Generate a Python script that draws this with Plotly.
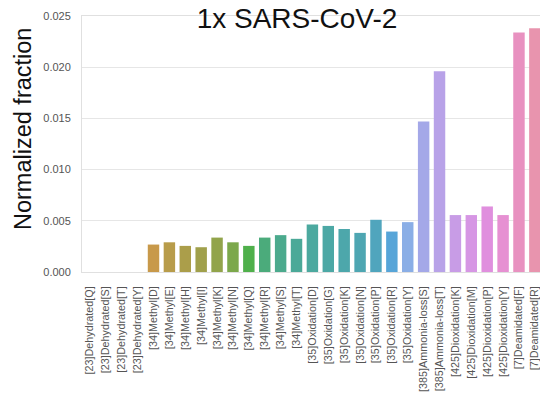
import plotly.graph_objects as go

categories = [
    "[23]Dehydrated[Q]", "[23]Dehydrated[S]", "[23]Dehydrated[T]", "[23]Dehydrated[Y]",
    "[34]Methyl[D]", "[34]Methyl[E]", "[34]Methyl[H]", "[34]Methyl[I]", "[34]Methyl[K]",
    "[34]Methyl[N]", "[34]Methyl[Q]", "[34]Methyl[R]", "[34]Methyl[S]", "[34]Methyl[T]",
    "[35]Oxidation[D]", "[35]Oxidation[G]", "[35]Oxidation[K]", "[35]Oxidation[N]",
    "[35]Oxidation[P]", "[35]Oxidation[R]", "[35]Oxidation[Y]",
    "[385]Ammonia-loss[S]", "[385]Ammonia-loss[T]",
    "[425]Dioxidation[K]", "[425]Dioxidation[M]", "[425]Dioxidation[P]", "[425]Dioxidation[Y]",
    "[7]Deamidated[F]", "[7]Deamidated[R]",
]

values = [
    0.0, 0.0, 0.0, 0.0,
    0.00268, 0.0029, 0.00255, 0.00242, 0.00336,
    0.0029, 0.00255, 0.00336, 0.0036, 0.00324,
    0.00464, 0.0045, 0.0042, 0.00382,
    0.0051, 0.00395, 0.00487,
    0.0147, 0.0196,
    0.00556, 0.00556, 0.0064, 0.00556,
    0.0234, 0.0238,
]

colors = [
    "#e8909a", "#e49488", "#dc9870", "#d29a5a",
    "#c8994a", "#b89c4a", "#ab9e4a", "#a0a04b", "#92a44b",
    "#7ca84b", "#4fb04b", "#4bab7b", "#4baa8d", "#4ba998",
    "#4ca99f", "#4ca8a5", "#4da7ab", "#4ea6b2",
    "#50a5bd", "#57a5d8", "#8aaee6",
    "#a4a8e8", "#b8a2e8",
    "#c89ce6", "#d696e4", "#e08fde", "#e690d2",
    "#e891c0", "#e894ae",
]

y_ticks = [0.0, 0.005, 0.010, 0.015, 0.020, 0.025]
y_tick_labels = ["0.000", "0.005", "0.010", "0.015", "0.020", "0.025"]

fig = go.Figure()
fig.add_trace(go.Bar(
    x=list(range(len(categories))),
    y=values,
    marker=dict(color=colors, line=dict(width=0)),
    width=0.72,
    hoverinfo="skip",
))

fig.update_layout(
    width=540, height=396,
    margin=dict(l=82, r=0, t=16, b=124),
    paper_bgcolor="white", plot_bgcolor="white",
    font=dict(family="Liberation Sans, Arial, sans-serif", color="#555555"),
    showlegend=False,
    title=dict(text="1x SARS-CoV-2", x=297/540, xanchor="center", xref="container",
               y=1 - 18/396, yanchor="middle", yref="container",
               font=dict(size=28, color="#111111")),
    annotations=[dict(text="Normalized fraction", textangle=-90, showarrow=False,
                      xref="paper", yref="paper", x=(23 - 82) / 458, y=(272 - 129) / 256,
                      xanchor="center", yanchor="middle",
                      font=dict(size=23.5, color="#111111"))],
)

fig.update_xaxes(
    tickmode="array", tickvals=list(range(len(categories))), ticktext=categories,
    tickangle=-90, tickfont=dict(size=10.8, color="#555555"),
    range=[-0.5, -0.5 + 458 / 15.89], automargin=False, ticklabeloverflow="allow",
    showgrid=False, showline=True, linecolor="#e0e0e0", linewidth=1, mirror=True,
    ticks="", ticklabelstandoff=9, zeroline=False,
)
fig.update_yaxes(
    tickmode="array", tickvals=y_ticks, ticktext=y_tick_labels,
    tickfont=dict(size=11, color="#555555"),
    range=[0, 0.025], automargin=False,
    showgrid=True, gridcolor="#e6e6e6", gridwidth=1,
    showline=True, linecolor="#e0e0e0", linewidth=1, mirror=True,
    ticks="", ticklabelstandoff=8, zeroline=False,
)

fig.write_html("out.html", config={"displayModeBar": False},
               post_script="document.body.style.margin='0';")
